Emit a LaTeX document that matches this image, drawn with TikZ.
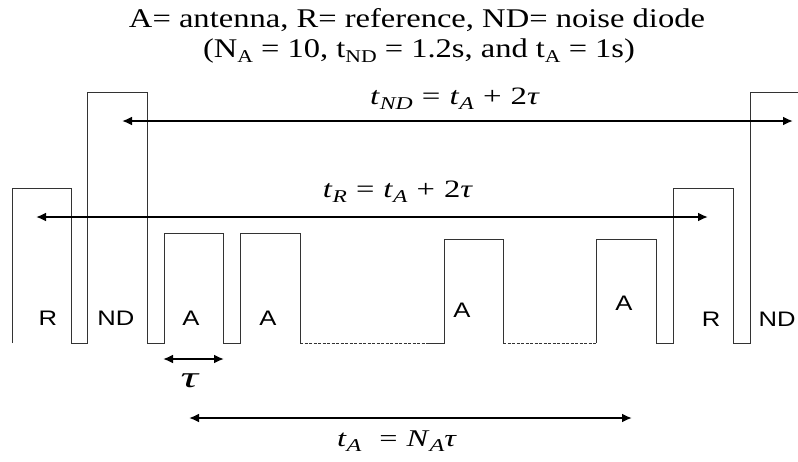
\documentclass[tikz,border=0pt]{standalone}
\usepackage{fontspec}
\usepackage{graphicx}
\setmainfont{Liberation Serif}
\newfontfamily\labfont{Liberation Sans}
\usetikzlibrary{arrows.meta}
\newcommand{\isub}[1]{\raisebox{-0.45ex}{\fontsize{18}{18}\selectfont\textit{#1}}}
\newcommand{\usub}[1]{\raisebox{-0.4ex}{\fontsize{18}{18}\selectfont #1}}
\newcommand{\fitw}[2]{\resizebox{#1}{\height}{#2}}
\begin{document}
\begin{tikzpicture}[x=1pt,y=-1pt,
  wave/.style={line width=1pt, draw=black!80},
  dashline/.style={line width=1pt, draw=black!80, dash pattern=on 3pt off 1.5pt},
  dim/.style={line width=2.2pt, {Latex[length=10pt,width=9pt]}-{Latex[length=10pt,width=9pt]}},
  lab/.style={font=\labfont\fontsize{21}{21}\selectfont, inner sep=0pt},
  title/.style={font=\fontsize{27}{27}\selectfont, inner sep=0pt},
  eq/.style={font=\fontsize{25}{25}\selectfont, inner sep=0pt}]
\useasboundingbox (0,0) rectangle (798,461);
% waveform
\draw[wave] (12,343) -- (12,188) -- (71,188) -- (71,343) -- (87,343) -- (87,92) -- (147,92) -- (147,343)
  -- (164,343) -- (164,233) -- (223,233) -- (223,343) -- (240,343) -- (240,233) -- (300,233) -- (300,343);
\draw[dashline] (300,343) -- (427,343);
\draw[wave] (427,343) -- (444,343) -- (444,239) -- (503,239) -- (503,343);
\draw[dashline] (503,343) -- (596,343);
\draw[wave] (596,343) -- (596,239) -- (656,239) -- (656,343) -- (673,343) -- (673,188) -- (733,188) -- (733,343)
  -- (750,343) -- (750,92) -- (798,92);
% labels
\node[lab] (r1) at (48,318) {\scalebox{1.22}[1]{R}};
\node[lab] (nd1) at (116,318) {\scalebox{1.22}[1]{ND}};
\node[lab] (a1) at (191,318) {\scalebox{1.22}[1]{A}};
\node[lab] (a2) at (268,318) {\scalebox{1.22}[1]{A}};
\node[lab] (a3) at (462,310) {\scalebox{1.22}[1]{A}};
\node[lab] (a4) at (624,303) {\scalebox{1.22}[1]{A}};
\node[lab] (r2) at (711,319) {\scalebox{1.22}[1]{R}};
\node[lab] (nd2) at (777,319) {\scalebox{1.22}[1]{ND}};
% titles
\node[title] (t1) at (417,20) {\fitw{576pt}{A= antenna, R= reference, ND= noise diode}};
\node[title] (t2) at (419,51) {\fitw{432pt}{(N\usub{A} = 10, t\usub{ND} = 1.2s, and t\usub{A} = 1s)}};
% arrows
\coordinate (ndL) at (122,121); \coordinate (ndR) at (793,121);
\coordinate (rL) at (36,217); \coordinate (rR) at (708,217);
\coordinate (tauL) at (163,359); \coordinate (tauR) at (224,359);
\coordinate (taL) at (189,418); \coordinate (taR) at (632,418);
\draw[dim] (ndL) -- (ndR);
\draw[dim] (rL) -- (rR);
\draw[dim] (tauL) -- (tauR);
\draw[dim] (taL) -- (taR);
% equations
\node[eq] (eqnd) at (455,99) {\fitw{170pt}{\textit{t}\isub{ND}\;=\;\textit{t}\isub{A}\;+\;2\textit{τ}}};
\node[eq] (eqr) at (398,192) {\fitw{150pt}{\textit{t}\isub{R}\;=\;\textit{t}\isub{A}\;+\;2\textit{τ}}};
\node[eq, font=\fontsize{30}{30}\selectfont] (eqtau) at (190,381) {\fitw{19pt}{\textit{τ}}};
\node[eq, font=\fontsize{24}{24}\selectfont] (eqta) at (397,441) {\fitw{120pt}{\textit{t}\isub{A}\;\;=\;\textit{N}\isub{A}\textit{τ}}};
\end{tikzpicture}
\end{document}
